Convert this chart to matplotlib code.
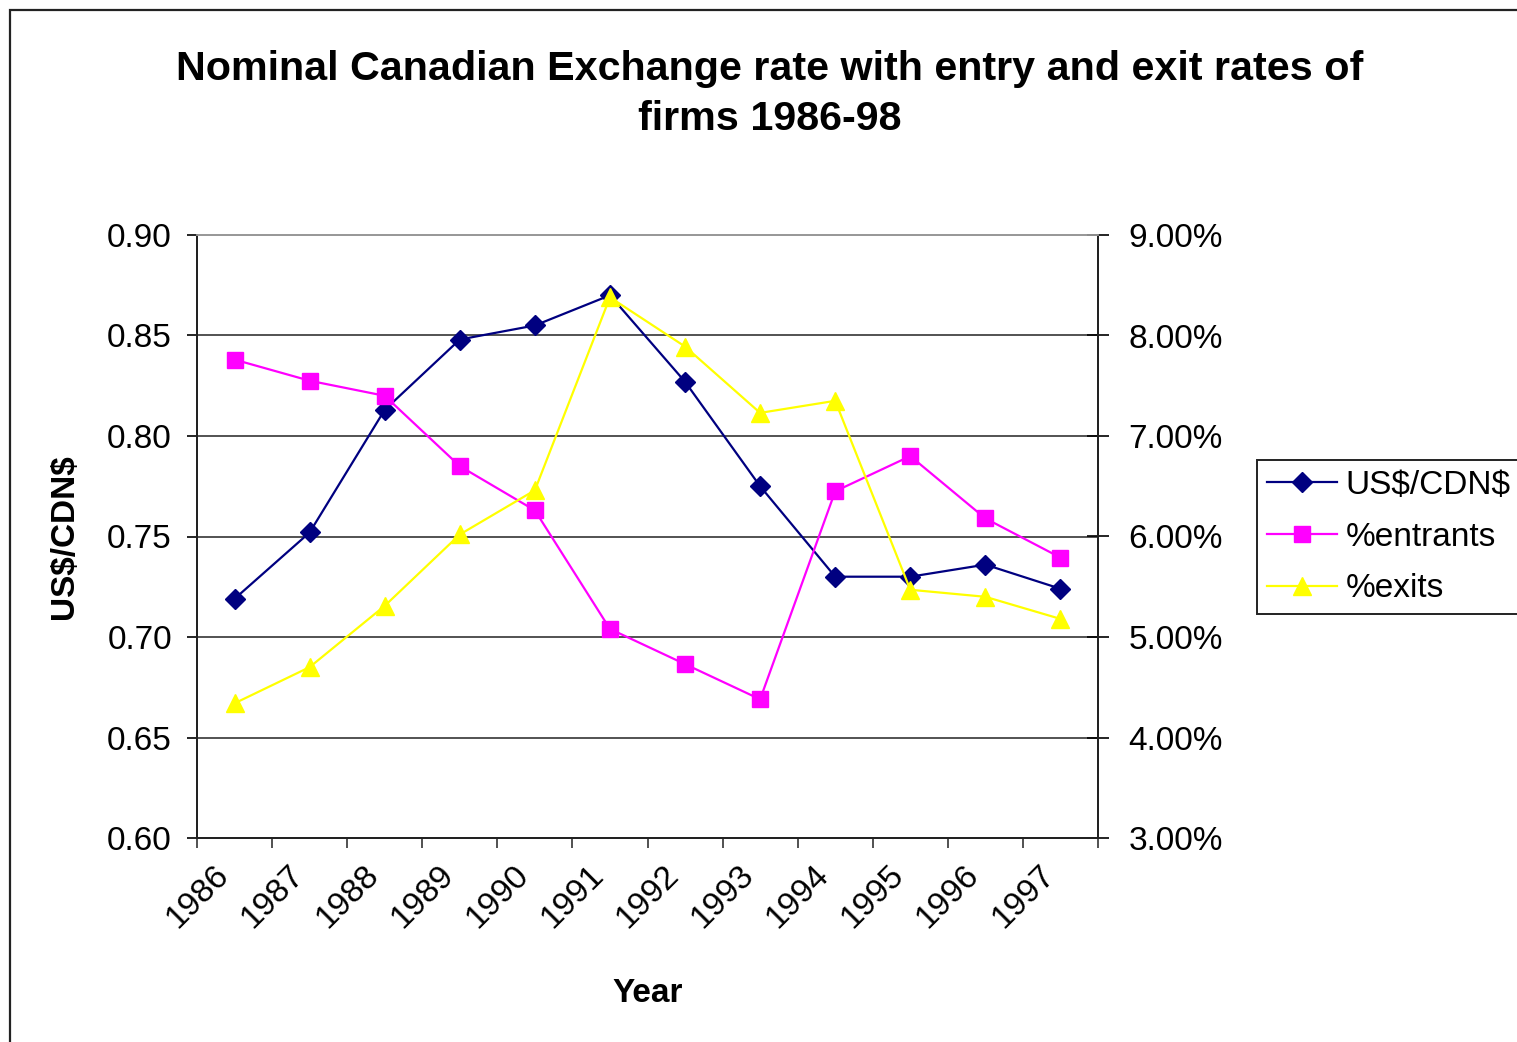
import numpy as np
import matplotlib
matplotlib.use("Agg")
from matplotlib import pyplot as plt
from matplotlib.patches import Rectangle
from matplotlib.ticker import FuncFormatter

plt.rcParams['font.family'] = ['Liberation Sans', 'DejaVu Sans']

years = ['1986', '1987', '1988', '1989', '1990', '1991',
         '1992', '1993', '1994', '1995', '1996', '1997']
us_per_cdn = [0.719, 0.752, 0.813, 0.848, 0.855, 0.870,
              0.827, 0.775, 0.730, 0.730, 0.736, 0.724]
entrants_pct = [7.76, 7.55, 7.40, 6.70, 6.26, 5.08,
                4.73, 4.38, 6.45, 6.80, 6.18, 5.79]
exits_pct = [4.34, 4.70, 5.31, 6.02, 6.46, 8.38,
             7.89, 7.23, 7.35, 5.47, 5.40, 5.18]

W, H = 1517, 1042
fig = plt.figure(figsize=(W / 100, H / 100), dpi=100)

def fx(px): return px / W
def fy(py): return 1 - py / H

# plot area in pixel terms: left 197, right 1098, top 235, bottom 838
ax = fig.add_axes([fx(197), fy(838), fx(1098) - fx(197), fy(235) - fy(838)])
ax2 = ax.twinx()

x = np.arange(len(years))

l1, = ax.plot(x, us_per_cdn, color='#000080', lw=1.6, marker='D', ms=10,
              mec='#000080', mfc='#000080', label=r'US\$/CDN\$')
l2, = ax2.plot(x, entrants_pct, color='#FF00FF', lw=1.6, marker='s', ms=12,
               mec='#FF00FF', mfc='#FF00FF', label='%entrants')
l3, = ax2.plot(x, exits_pct, color='#FFFF00', lw=1.6, marker='^', ms=13,
               mec='#FFFF00', mfc='#FFFF00', label='%exits')

ax.set_xlim(-0.5, len(years) - 0.5)
ax.set_ylim(0.60, 0.90)
ax.set_yticks(np.arange(0.60, 0.901, 0.05))
ax.yaxis.set_major_formatter(FuncFormatter(lambda v, p: f'{v:.2f}'))
ax2.set_ylim(3, 9)
ax2.set_yticks(np.arange(3, 9.01, 1))
ax2.yaxis.set_major_formatter(FuncFormatter(lambda v, p: f'{v:.2f}%'))

# category boundaries carry the tick marks, centres carry the labels
ax.set_xticks(np.arange(-0.5, len(years), 1.0))
ax.set_xticklabels([])
ax.set_xticks(x, labels=years, minor=True)
ax.tick_params(axis='x', which='major', direction='out', length=7, width=1.2, color='#333333')
ax.tick_params(axis='x', which='minor', length=0, pad=31.5, labelsize=24)
for lbl in ax.get_xticklabels(minor=True):
    lbl.set(rotation=45, ha='right', va='bottom', rotation_mode='anchor')

ax.tick_params(axis='y', direction='out', length=7, width=1.2, pad=11, labelsize=24)
ax2.tick_params(axis='y', direction='inout', length=16, width=1.2, pad=14, labelsize=24)

ax.grid(axis='y', color='#444444', lw=1.3)
ax.set_axisbelow(True)

for a in (ax, ax2):
    a.spines['top'].set_color('#999999')
    a.spines['top'].set_linewidth(1.3)
    for s in ('left', 'right', 'bottom'):
        a.spines[s].set_color('#222222')
        a.spines[s].set_linewidth(1.4)

fig.text(fx(770), fy(94), 'Nominal Canadian Exchange rate with entry and exit rates of\nfirms 1986-98',
         ha='center', va='center', fontsize=29.7, fontweight='bold', linespacing=1.42)
fig.text(fx(65), fy(537), r'US\$/CDN\$', rotation=90, ha='center', va='center',
         fontsize=24, fontweight='bold')
fig.text(fx(648), fy(994), 'Year', ha='center', va='center', fontsize=24, fontweight='bold')

leg = fig.legend([l1, l2, l3], [r'US\$/CDN\$', '%entrants', '%exits'],
                 loc='upper left', bbox_to_anchor=(fx(1257), fy(460)),
                 bbox_transform=fig.transFigure, fontsize=24, numpoints=1,
                 frameon=True, fancybox=False, framealpha=1, edgecolor='#222222',
                 handlelength=2.1, handletextpad=0.25, labelspacing=0.62,
                 borderpad=0.3, borderaxespad=0)
leg.get_frame().set_linewidth(1.4)

# chart area border, runs off the right and bottom edges
fig.add_artist(Rectangle((fx(10), -0.5), 1.0, fy(10) + 0.5, transform=fig.transFigure,
                         fill=False, edgecolor='#222222', lw=1.6, clip_on=False))

fig.savefig('out.png', dpi=100)
